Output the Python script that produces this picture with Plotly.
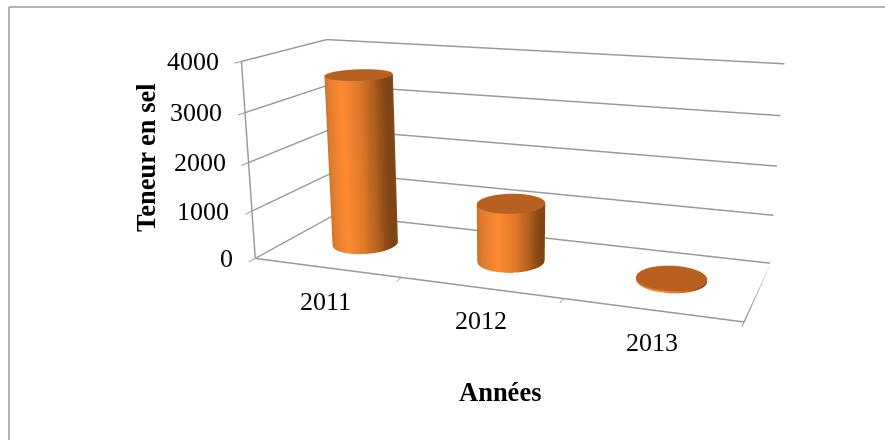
import numpy as np
import plotly.graph_objects as go

years = ["2011", "2012", "2013"]
teneur = [3575, 1200, 40]
z_ticks = [0, 1000, 2000, 3000, 4000]
x_boundaries = [0.5, 1.5, 2.5, 3.5]

W, H = 885, 440
FOCAL = 1109.025          # camera focal length in px, sets the scene height
FH = 2*FOCAL*np.tan(np.pi/8)
TOP = round(FH/2 - 220)   # page offset so the camera axis sits at the window middle
CX = 508.65
half = W - CX
x0, x1 = 0.5, 3.5
y0, y1 = 0.0, 1.0
z0, z1 = 0, 4000
GRAY = '#999999'
FONT = 'Liberation Serif'

fig = go.Figure()
rx, ry = 0.205, 0.22
th = np.linspace(0, 2*np.pi, 97)
body = [[0, '#BE6A28'], [0.2, '#DD7A2C'], [0.5, '#FF8B33'], [0.75, '#DE7828'], [0.9, '#B0601E'], [1, '#7E4415']]
flat = dict(ambient=1, diffuse=0, specular=0, fresnel=0, roughness=1)
for i, v in enumerate(teneur):
    X = (i+1) + rx*np.cos(th)
    Y = 0.5 + ry*np.sin(th)
    fig.add_trace(go.Surface(x=np.array([X, X]), y=np.array([Y, Y]), z=np.array([0*th, 0*th+v]),
                             surfacecolor=np.array([np.cos(th), np.cos(th)]), cmin=-1, cmax=1,
                             colorscale=body, showscale=False, hoverinfo='skip', lighting=flat))
    R = np.array([0, 1.0])
    fig.add_trace(go.Surface(x=(i+1)+rx*np.outer(R, np.cos(th)), y=0.5+ry*np.outer(R, np.sin(th)),
                             z=np.full((2, 97), float(v)), surfacecolor=np.zeros((2, 97)), cmin=0, cmax=1,
                             colorscale=[[0, '#B8601F'], [1, '#B8601F']], showscale=False,
                             hoverinfo='skip', lighting=flat))
for xs, ys, zs in [([x0, x1], [y0, y0], [z0, z0]), ([x1, x1], [y0, y1], [z0, z0])]:
    fig.add_trace(go.Scatter3d(x=xs, y=ys, z=zs, mode='lines', line=dict(color=GRAY, width=3),
                               hoverinfo='skip', showlegend=False))

ax = dict(showbackground=False, showgrid=False, zeroline=False, showspikes=False, title='',
          showticklabels=False, showline=False)
ann = [dict(x=x0, y=y0, z=t, text=str(t), showarrow=False, xanchor='right', xshift=-21,
            font=dict(family=FONT, size=26, color='black')) for t in z_ticks]
xshift = [-1, 0, 0]
yshift = [-34, -33, -33]
ann += [dict(x=i+1, y=y0, z=z0, text=y, showarrow=False, xshift=xshift[i], yshift=yshift[i],
             font=dict(family=FONT, size=26, color='black')) for i, y in enumerate(years)]
scene = dict(domain=dict(x=[(CX-half)/W, 1], y=[0, 1]), aspectmode='manual',
             aspectratio=dict(x=1.577, y=0.533, z=0.642),
             camera=dict(eye=dict(x=1.169, y=-3.186, z=0.846), center=dict(x=0.080, y=-0.240, z=-0.108),
                         up=dict(x=0.001, y=0, z=1)),
             xaxis=dict(ax, range=[x0, x1], tickvals=x_boundaries, ticks='outside', ticklen=6, tickwidth=2,
                        tickcolor=GRAY),
             yaxis=dict(ax, range=[y0, y1], tickvals=[], ticks=''),
             zaxis=dict(ax, range=[z0, z1], tickvals=z_ticks, showgrid=True, gridcolor=GRAY, gridwidth=3,
                        ticks='outside', ticklen=6, tickwidth=2, tickcolor=GRAY,
                        showline=True, linecolor=GRAY, linewidth=3),
             annotations=ann)
yf = lambda py: 1 - (py + TOP)/FH
fig.update_layout(width=W, height=FH, margin=dict(l=0, r=0, t=0, b=0), paper_bgcolor='white', showlegend=False,
                  scene=scene,
                  shapes=[dict(type='line', xref='paper', yref='paper', x0=9/W, x1=1, y0=yf(7), y1=yf(7),
                               line=dict(color=GRAY, width=1.5)),
                          dict(type='line', xref='paper', yref='paper', x0=9/W, x1=9/W, y0=yf(440), y1=yf(7),
                               line=dict(color=GRAY, width=1.5))],
                  annotations=[dict(x=500/W, y=yf(392), xref='paper', yref='paper', text='<b>Années</b>',
                                    showarrow=False, xanchor='center', yanchor='middle',
                                    font=dict(family=FONT, size=26.5, color='black')),
                               dict(x=146/W, y=yf(158), xref='paper', yref='paper', text='<b>Teneur en sel</b>',
                                    textangle=-90, showarrow=False, xanchor='center', yanchor='middle',
                                    font=dict(family=FONT, size=26.5, color='black'))])
post = ("document.body.style.margin='0';document.body.style.overflow='hidden';"
        "document.getElementById('{plot_id}').style.marginTop='-%dpx';" % TOP)
fig.write_html("out.html", post_script=post, config=dict(displayModeBar=False))
